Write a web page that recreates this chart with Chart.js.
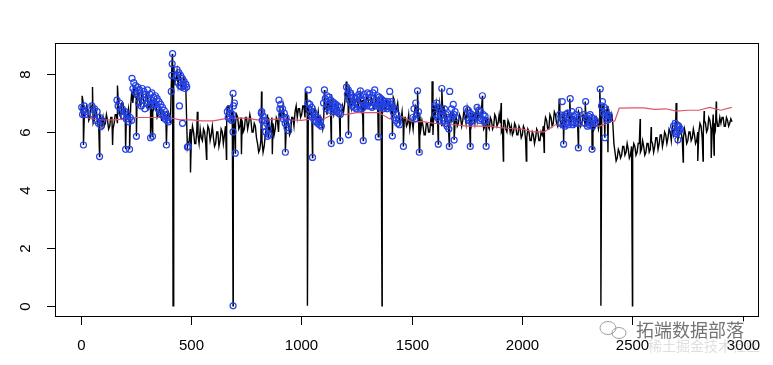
<!DOCTYPE html>
<html>
<head>
<meta charset="utf-8">
<script src="https://cdn.jsdelivr.net/npm/chart.js@4.4.1/dist/chart.umd.min.js"></script>
<style>
html, body { margin: 0; padding: 0; background: #fff; }
canvas { display: block; }
</style>
</head>
<body>
<canvas id="graficoSerie" width="773" height="365"></canvas>
<script>
//série original (um valor a cada 10 observações, começando em 1)
const seriesStep = 10;
const seriesY = [
    6.9, 7.0, 6.6, 6.8, 6.5, 6.8, 6.4, 6.7, 6.2, 6.5,
    6.5, 6.3, 6.4, 6.2, 6.5, 6.3, 6.6, 6.9, 6.5, 7.0,
    6.8, 6.5, 6.4, 7.4, 7.6, 7.2, 7.4, 6.9, 7.3, 7.0,
    7.2, 6.9, 7.1, 6.8, 6.9, 6.6, 6.7, 6.4, 6.6, 6.5,
    6.6, 7.9, 8.3, 7.8, 7.6, 8.0, 7.6, 7.8, 6.0, 5.7,
    5.8, 6.0, 5.6, 5.9, 6.1, 5.7, 6.0, 5.8, 6.1, 5.9,
    5.8, 5.6, 6.0, 5.7, 6.0, 5.9, 6.6, 6.9, 6.4, 6.7,
    6.3, 6.5, 6.2, 6.4, 6.1, 6.5, 6.3, 6.4, 6.0, 6.2,
    5.6, 5.4, 5.7, 5.5, 6.2, 6.5, 6.0, 6.3, 6.1, 6.4,
    6.9, 6.6, 6.4, 6.1, 6.3, 6.0, 6.5, 6.7, 6.5, 6.8,
    6.6, 6.9, 6.7, 6.9, 6.6, 6.5, 6.8, 6.4, 6.3, 6.3,
    6.5, 6.9, 7.2, 7.0, 6.8, 6.9, 6.7, 6.8, 6.6, 6.7,
    7.5, 7.3, 7.0, 7.1, 6.9, 7.2, 7.0, 6.8, 7.1, 6.9,
    7.2, 6.9, 7.1, 6.8, 7.0, 7.2, 6.9, 7.1, 6.8, 7.0,
    7.0, 6.9, 7.1, 6.8, 6.6, 6.4, 6.2, 6.5, 6.3, 6.1,
    6.4, 6.6, 6.8, 6.3, 6.1, 6.2, 5.9, 6.3, 6.0, 6.2,
    6.9, 7.0, 6.7, 6.5, 6.6, 6.3, 6.5, 6.2, 6.4, 6.6,
    6.5, 6.3, 6.5, 6.4, 6.6, 6.8, 6.5, 6.3, 6.6, 6.7,
    6.8, 6.5, 6.4, 6.2, 6.5, 6.1, 6.4, 6.2, 6.5, 6.3,
    6.3, 6.1, 6.4, 6.0, 6.3, 6.2, 6.0, 6.2, 5.9, 6.1,
    5.9, 6.1, 5.8, 6.0, 5.7, 5.9, 5.8, 6.0, 5.7, 5.9,
    6.2, 6.4, 6.1, 6.5, 6.3, 6.6, 6.2, 6.5, 6.3, 6.6,
    6.4, 6.6, 6.3, 6.5, 6.2, 6.4, 6.6, 6.3, 6.5, 6.2,
    6.5, 6.3, 6.4, 6.2, 6.4, 6.3, 6.6, 6.9, 6.6, 6.8,
    6.4, 6.3, 5.3, 5.1, 5.3, 5.2, 5.5, 5.3, 5.4, 5.2,
    5.3, 5.5, 5.3, 5.6, 5.4, 5.5, 5.3, 5.6, 5.4, 5.6,
    5.5, 5.8, 5.6, 5.9, 5.7, 5.9, 5.8, 6.0, 6.2, 6.1,
    6.1, 5.9, 6.0, 5.8, 5.9, 5.7, 6.0, 5.8, 5.9, 5.7,
    6.0, 6.2, 5.9, 6.3, 6.1, 6.4, 6.0, 6.3, 6.5, 6.2,
    6.3, 6.5, 6.2, 6.4, 6.3, 6.35
];
const seriesMidY = [
    6.5, 6.6, 6.9, 6.4, 6.9, 6.3, 6.8, 6.3, 6.6, 6.2,
    6.2, 6.6, 6.1, 6.5, 6.1, 6.6, 6.3, 6.6, 7.0, 6.6,
    6.4, 6.8, 6.9, 7.0, 7.2, 7.5, 7.0, 7.4, 6.9, 7.3,
    6.8, 7.2, 6.7, 7.0, 6.5, 6.8, 6.4, 6.7, 6.3, 6.7,
    6.3, 8.1, 7.7, 8.1, 7.9, 7.5, 7.9, 7.5, 5.6, 6.1,
    6.2, 5.6, 6.1, 5.6, 5.8, 6.1, 5.6, 6.2, 5.7, 6.2,
    5.5, 6.0, 5.5, 6.1, 5.6, 6.2, 6.9, 6.5, 6.8, 6.2,
    6.6, 6.1, 6.5, 6.0, 6.5, 6.1, 6.6, 6.0, 6.3, 5.8,
    5.3, 5.7, 5.3, 5.9, 6.6, 6.1, 6.5, 5.9, 6.5, 6.0,
    6.5, 6.9, 6.1, 6.5, 5.9, 6.5, 6.2, 6.9, 6.8, 6.5,
    6.9, 6.5, 7.0, 6.6, 6.9, 6.7, 6.5, 6.7, 6.5, 6.1,
    6.8, 6.6, 6.9, 7.3, 6.6, 7.0, 6.9, 6.5, 6.9, 7.0,
    7.2, 7.6, 6.8, 7.3, 7.1, 6.8, 7.3, 7.1, 6.8, 7.2,
    6.9, 7.2, 6.8, 7.2, 6.7, 6.9, 7.2, 6.8, 7.1, 6.8,
    6.7, 7.2, 6.7, 7.0, 6.3, 6.7, 6.5, 6.2, 6.6, 6.4,
    6.1, 6.9, 6.5, 6.6, 6.4, 5.9, 6.3, 6.0, 6.4, 5.9,
    6.6, 6.7, 7.0, 6.2, 6.9, 6.6, 6.2, 6.6, 6.7, 6.3,
    6.2, 6.6, 6.2, 6.7, 6.3, 6.5, 6.8, 6.6, 6.3, 6.4,
    6.5, 6.8, 6.1, 6.5, 6.2, 6.5, 6.1, 6.6, 6.2, 6.6,
    6.0, 6.4, 6.1, 6.4, 6.0, 5.9, 6.3, 5.9, 6.2, 5.8,
    6.2, 5.7, 6.1, 5.7, 6.0, 5.6, 6.1, 5.7, 6.0, 6.2,
    6.5, 6.1, 6.6, 6.2, 6.7, 6.3, 6.6, 6.2, 6.7, 6.3,
    6.7, 6.2, 6.6, 6.2, 6.5, 6.7, 6.2, 6.6, 6.2, 6.5,
    6.2, 6.6, 6.1, 6.5, 6.1, 6.6, 6.9, 6.5, 6.9, 6.5,
    6.6, 5.6, 5.0, 5.4, 5.1, 5.5, 5.2, 5.6, 5.1, 5.5,
    5.6, 5.2, 5.6, 5.3, 5.7, 5.2, 5.6, 5.3, 5.7, 5.3,
    5.8, 5.4, 5.9, 5.5, 6.0, 5.6, 6.1, 5.7, 5.9, 6.3,
    5.8, 6.2, 5.7, 6.1, 5.6, 6.0, 5.7, 6.1, 5.6, 6.0,
    6.3, 5.8, 6.4, 6.0, 6.5, 6.1, 6.6, 6.1, 6.2, 6.5,
    6.5, 6.2, 6.5, 6.2, 6.45
];

//picos isolados da série
const spikeX = [6, 12, 53, 85, 144, 166, 203, 221, 252, 316, 325, 388, 415, 418, 483, 497, 528, 570, 660, 686,
    690, 700, 728, 819, 850, 868, 927, 1018, 1024, 1027, 1050, 1104, 1135, 1175, 1203, 1213, 1280, 1348, 1365, 1412,
    1462, 1526, 1534, 1592, 1620, 1636, 1670, 1692, 1765, 1820, 1837, 1905, 1915, 2019, 2100, 2168, 2188, 2216, 2255, 2286,
    2317, 2352, 2357, 2375, 2389, 2500, 2535, 2585, 2698, 2706, 2730, 2796, 2820, 2825, 2857, 2870, 2880];
const spikeY = [7.25, 5.55, 7.55, 5.15, 5.55, 7.6, 5.4, 5.4, 5.85, 5.8, 5.85, 5.55, 8.7, 0, 5.48, 4.6, 6.7, 5.06, 5.06, 7.3,
    0, 5.27, 5.23, 7.4, 5.85, 5.23, 5.3, 7.5, 7.4, 0, 5.12, 7.45, 5.6, 5.7, 7.74, 5.9, 5.7, 5.83, 0, 5.86,
    5.5, 7.42, 5.3, 7.75, 5.58, 7.5, 5.5, 5.72, 5.5, 7.25, 5.5, 7.0, 5.0, 5.0, 5.3, 7.15, 5.58, 7.15, 5.45, 7.05,
    5.4, 7.48, 0, 5.8, 5.3, 0, 6.45, 6.17, 7.0, 5.73, 4.96, 5.0, 5.0, 6.72, 5.1, 5.2, 7.05];

//média móvel
const meanX = [0, 50, 100, 150, 200, 250, 300, 350, 400, 450,
    500, 550, 600, 650, 700, 750, 800, 850, 900, 950,
    1000, 1050, 1100, 1150, 1200, 1250, 1300, 1350, 1400, 1450,
    1500, 1550, 1600, 1650, 1700, 1750, 1800, 1850, 1900, 1950,
    2000, 2050, 2100, 2150, 2200, 2250, 2300, 2350, 2400, 2420, 2440,
    2500, 2550, 2600, 2650, 2700, 2750, 2800, 2850, 2900, 2950];
const meanY = [6.55, 6.45, 6.42, 6.42, 6.45, 6.5, 6.5, 6.5, 6.5, 6.42,
    6.42, 6.38, 6.38, 6.45, 6.48, 6.48, 6.42, 6.42, 6.45, 6.42,
    6.4, 6.45, 6.45, 6.63, 6.6, 6.67, 6.67, 6.67, 6.45, 6.55,
    6.36, 6.36, 6.3, 6.25, 6.25, 6.2, 6.2, 6.2, 6.15, 6.12,
    6.1, 6.0, 6.0, 6.25, 6.25, 6.25, 6.2, 6.2, 6.35, 6.38, 6.82,
    6.83, 6.83, 6.78, 6.8, 6.72, 6.75, 6.75, 6.85, 6.75, 6.85];

//observações marcadas como anómalas
const outlierX = [
    4, 8, 12, 16, 20, 24, 12,
    50, 56, 62, 68, 74, 80, 86, 92, 96, 85,
    164, 169, 176, 182, 188, 194, 200, 206, 212, 218, 224, 230, 203, 221,
    232, 236, 240, 244, 248, 254, 258, 262, 266, 270, 274, 278, 282, 286, 290, 294, 298, 302, 306, 310, 314, 318, 322, 326, 330, 334, 252, 316, 325,
    338, 342, 346, 350, 354, 358, 362, 366, 370, 374, 378, 382, 386, 390, 394, 398, 388,
    410, 412, 414, 416,
    432, 436, 440, 444, 448, 452, 456, 460, 464, 468, 472, 476, 480, 447, 461, 483, 487,
    664, 668, 672, 676, 680, 684, 688, 692, 696, 690, 690, 700, 690,
    818, 822, 826, 830, 834, 838, 842, 846, 850, 854, 820,
    898, 902, 906, 910, 914, 918, 922, 926, 930, 934, 938, 942, 927,
    1030, 1031, 1034, 1038, 1042, 1046, 1050, 1054, 1058, 1062, 1066, 1070, 1074, 1078, 1082, 1086, 1090, 1050,
    1100, 1104, 1108, 1112, 1116, 1120, 1124, 1128, 1132, 1136, 1140, 1144, 1148, 1152, 1156, 1160, 1164, 1168, 1172, 1176, 1135, 1175,
    1204, 1208, 1212, 1216, 1220, 1224, 1228, 1232, 1236, 1240, 1244, 1248, 1252, 1256, 1260, 1264, 1268, 1272, 1276, 1280, 1284, 1288, 1292, 1296, 1300, 1213, 1280, 1267,
    1304, 1308, 1312, 1316, 1320, 1324, 1328, 1332, 1336, 1340, 1344, 1348, 1352, 1356, 1360, 1364, 1368, 1372, 1376, 1380, 1384, 1388, 1392, 1396, 1400, 1404, 1408, 1412, 1348, 1412,
    1416, 1420, 1424, 1428, 1432, 1436, 1440, 1444, 1462,
    1505, 1510, 1514, 1518, 1522, 1526, 1530, 1534,
    1604, 1608, 1612, 1616, 1620, 1624, 1628, 1632, 1636, 1640, 1644, 1648, 1652, 1656, 1660, 1664, 1668, 1672, 1676, 1680, 1684, 1688, 1692, 1696, 1700, 1620, 1670, 1692,
    1748, 1752, 1756, 1760, 1764, 1768, 1772, 1776, 1780, 1765,
    1796, 1800, 1804, 1808, 1812, 1816, 1820, 1824, 1828, 1832, 1836, 1837,
    2170, 2174, 2178, 2182, 2186, 2190, 2194, 2198, 2202, 2206, 2210, 2214, 2218, 2222, 2226, 2230, 2234, 2238, 2242, 2246, 2250, 2254, 2258, 2188, 2255,
    2280, 2284, 2288, 2292, 2296, 2300, 2304, 2308, 2312, 2316, 2320, 2324, 2328, 2332, 2317,
    2354, 2360, 2364, 2368, 2372, 2376, 2380, 2384, 2388, 2392, 2396, 2375,
    2686, 2690, 2694, 2698, 2702, 2706, 2710, 2714, 2718, 2706
];
const outlierY = [
    6.85, 6.6, 6.75, 6.9, 6.6, 6.7, 5.55,
    6.9, 6.6, 6.8, 6.4, 6.7, 6.3, 6.5, 6.2, 6.4, 5.15,
    7.1, 6.9, 7.0, 6.7, 6.8, 6.55, 6.7, 6.45, 6.6, 6.35, 6.5, 6.4, 5.4, 5.4,
    7.85, 7.5, 7.7, 7.4, 7.6, 7.3, 7.55, 7.0, 7.45, 7.2, 6.9, 7.5, 7.1, 7.4, 6.8, 7.3, 7.0, 7.45, 7.15, 6.9, 7.3, 7.1, 7.35, 6.95, 7.2, 7.0, 5.85, 5.8, 5.85,
    7.25, 6.95, 7.15, 6.8, 7.05, 6.7, 6.95, 6.6, 6.85, 6.55, 6.75, 6.45, 6.6, 6.4, 6.5, 6.35, 5.55,
    7.4, 7.95, 8.35, 8.7,
    7.9, 8.15, 7.7, 8.05, 7.6, 7.95, 7.55, 7.85, 7.6, 7.75, 7.5, 7.65, 7.55, 6.9, 6.3, 5.48, 5.5,
    6.7, 6.5, 6.8, 6.45, 6.65, 6.4, 6.6, 6.9, 7.0, 7.33, 6.0, 5.27, 0,
    6.65, 6.4, 6.55, 6.2, 6.4, 6.0, 6.3, 5.85, 6.1, 5.9, 6.7,
    7.1, 6.8, 6.95, 6.6, 6.8, 6.45, 6.65, 6.3, 6.5, 6.15, 6.35, 6.05, 5.3,
    7.0, 7.45, 6.8, 6.95, 6.6, 6.85, 6.5, 6.7, 6.4, 6.6, 6.35, 6.5, 6.3, 6.45, 6.25, 6.35, 6.2, 5.12,
    7.0, 7.45, 7.15, 6.8, 7.25, 6.9, 7.2, 6.75, 7.1, 6.85, 7.05, 6.7, 7.0, 6.8, 6.95, 6.7, 6.9, 6.65, 6.85, 6.6, 5.6, 5.7,
    7.55, 7.3, 7.45, 7.1, 7.35, 7.0, 7.25, 6.9, 7.2, 6.85, 7.15, 6.8, 7.2, 6.95, 7.3, 6.9, 7.25, 6.8, 7.1, 6.85, 7.3, 6.95, 7.2, 6.9, 7.35, 5.9, 5.7, 7.42,
    7.0, 7.3, 6.9, 7.2, 6.85, 7.35, 7.0, 7.45, 7.1, 6.9, 7.25, 6.95, 7.2, 6.85, 7.15, 6.9, 7.1, 6.8, 7.05, 6.85, 7.0, 6.8, 7.05, 6.9, 7.4, 6.95, 7.05, 6.85, 5.83, 5.86,
    6.7, 6.5, 6.8, 6.4, 6.6, 6.3, 6.45, 6.25, 5.5,
    6.5, 6.8, 6.45, 7.0, 6.6, 7.42, 6.7, 5.3,
    6.9, 6.6, 7.0, 6.5, 6.85, 6.4, 6.75, 6.55, 7.5, 6.7, 6.4, 6.8, 6.3, 6.6, 6.2, 6.5, 6.1, 7.4, 6.45, 6.8, 6.55, 6.95, 6.6, 6.7, 6.5, 5.58, 5.5, 5.72,
    6.8, 6.5, 6.75, 6.4, 6.65, 6.35, 6.6, 6.4, 6.55, 5.5,
    6.85, 6.5, 6.75, 6.4, 6.7, 6.45, 7.25, 6.6, 6.35, 6.55, 6.4, 5.5,
    6.6, 6.3, 6.5, 7.05, 6.25, 6.55, 6.2, 6.6, 6.3, 6.65, 6.25, 6.5, 7.15, 6.35, 6.7, 6.25, 6.55, 6.3, 6.6, 6.35, 6.5, 6.3, 6.75, 5.58, 5.45,
    6.6, 6.3, 7.05, 6.5, 6.2, 6.55, 6.25, 6.6, 6.3, 6.5, 6.2, 6.45, 6.3, 6.4, 5.4,
    7.48, 6.9, 7.05, 6.65, 6.85, 6.55, 6.75, 6.4, 6.6, 6.45, 6.55, 5.8,
    6.2, 6.0, 6.3, 5.95, 6.25, 6.0, 6.2, 6.05, 6.1, 5.73
];

const xTicks = [0, 500, 1000, 1500, 2000, 2500, 3000];
const yTicks = [0, 2, 4, 6, 8];

//junta a série, os valores intermédios e os picos, ordenados pelo índice
const seriesPoints = seriesY.map((y, i) => ({ x: 1 + i * seriesStep, y: y }))
    .concat(seriesMidY.map((y, i) => ({ x: 6 + i * seriesStep, y: y })))
    .concat(spikeX.map((x, i) => ({ x: x, y: spikeY[i] })))
    .sort((a, b) => a.x - b.x);
const meanPoints = meanX.map((x, i) => ({ x: x, y: meanY[i] }));
const outlierPoints = outlierX.map((x, i) => ({ x: x, y: outlierY[i] }));

//eixos ao estilo do R (caixa, marcas para fora, números do eixo y rodados)
const rAxes = {
    id: 'rAxes',
    afterDraw(chart) {
        const ctx = chart.ctx;
        const area = chart.chartArea;
        const sx = chart.scales.x;
        const sy = chart.scales.y;
        ctx.save();
        ctx.strokeStyle = '#000';
        ctx.lineWidth = 1;
        ctx.strokeRect(Math.round(area.left) + 0.5, Math.round(area.top) + 0.5,
            Math.round(area.right - area.left), Math.round(area.bottom - area.top));
        ctx.fillStyle = '#000';
        ctx.font = '15px "Liberation Sans", Arial, sans-serif';
        ctx.textAlign = 'center';
        ctx.textBaseline = 'middle';
        xTicks.forEach(v => {
            const px = Math.round(sx.getPixelForValue(v)) + 0.5;
            ctx.beginPath();
            ctx.moveTo(px, area.bottom);
            ctx.lineTo(px, area.bottom + 9);
            ctx.stroke();
            ctx.fillText(String(v), px, area.bottom + 30);
        });
        yTicks.forEach(v => {
            const py = Math.round(sy.getPixelForValue(v)) + 0.5;
            ctx.beginPath();
            ctx.moveTo(area.left, py);
            ctx.lineTo(area.left - 8, py);
            ctx.stroke();
            ctx.save();
            ctx.translate(area.left - 29, py);
            ctx.rotate(-Math.PI / 2);
            ctx.fillText(String(v), 0, 0);
            ctx.restore();
        });

        //marca de água
        ctx.strokeStyle = 'rgba(150,150,150,0.9)';
        ctx.beginPath();
        ctx.ellipse(608, 328, 8, 6.5, 0, 0, Math.PI * 2);
        ctx.stroke();
        ctx.beginPath();
        ctx.ellipse(619, 333, 7, 5.5, 0, 0, Math.PI * 2);
        ctx.stroke();
        ctx.textAlign = 'left';
        ctx.font = '18px "Noto Sans CJK SC", sans-serif';
        ctx.lineWidth = 3;
        ctx.strokeStyle = 'rgba(255,255,255,0.9)';
        ctx.strokeText('拓端数据部落', 636, 330);
        ctx.fillStyle = 'rgba(90,90,90,0.85)';
        ctx.fillText('拓端数据部落', 636, 330);
        ctx.font = '14px "Noto Sans CJK SC", sans-serif';
        ctx.fillStyle = 'rgba(150,150,150,0.3)';
        ctx.fillText('稀土掘金技术社区', 648, 346);
        ctx.restore();
    }
};

const ctx = document.getElementById('graficoSerie').getContext('2d');

new Chart(ctx, {
    type: 'scatter',
    data: {
        datasets: [{
            label: 'serie',
            data: seriesPoints,
            showLine: true,
            borderColor: '#000',
            borderWidth: 1.4,
            pointRadius: 0,
            tension: 0,
            order: 3
        }, {
            label: 'media',
            data: meanPoints,
            showLine: true,
            borderColor: '#DF536B',
            borderWidth: 1.2,
            pointRadius: 0,
            tension: 0,
            order: 2
        }, {
            label: 'anomalias',
            data: outlierPoints,
            showLine: false,
            pointStyle: 'circle',
            pointRadius: 3,
            pointBorderWidth: 1.2,
            pointBorderColor: 'rgb(35,65,230)',
            pointBackgroundColor: 'rgba(0,0,0,0)',
            order: 1
        }]
    },
    options: {
        responsive: false,
        animation: false,
        devicePixelRatio: 1,
        layout: {
            padding: { left: 55, top: 43, right: 15, bottom: 49 }
        },
        scales: {
            x: { type: 'linear', min: -117, max: 3069, display: false },
            y: { type: 'linear', min: -0.35, max: 9.07, display: false }
        },
        plugins: {
            legend: { display: false },
            tooltip: { enabled: false }
        }
    },
    plugins: [rAxes]
});
</script>
</body>
</html>
